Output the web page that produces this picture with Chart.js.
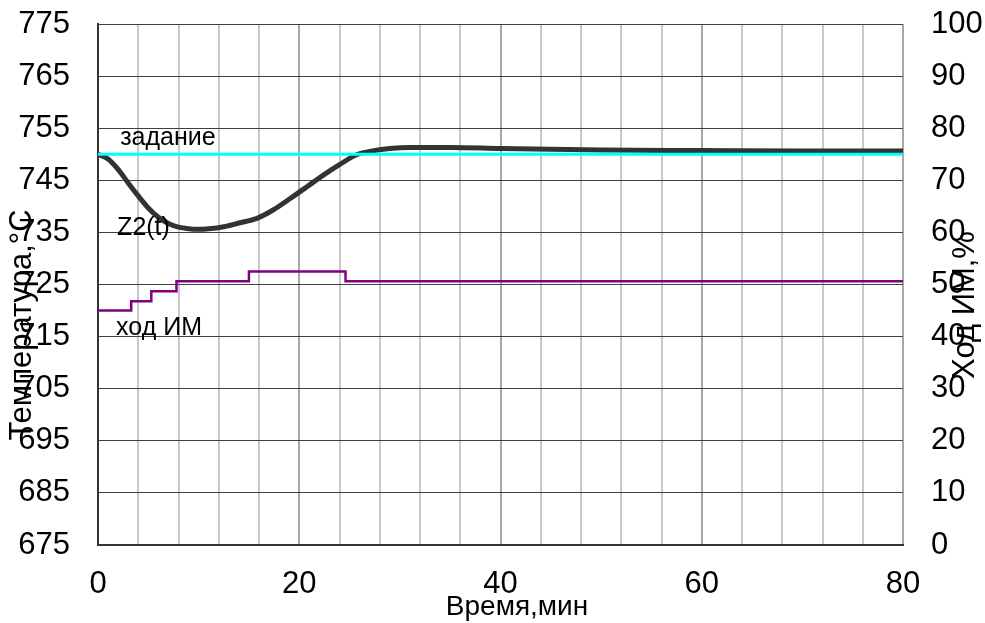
<!DOCTYPE html>
<html>
<head>
<meta charset="utf-8">
<script src="https://cdn.jsdelivr.net/npm/chart.js@4"></script>
<style>
  body { margin: 0; background: #fff; }
</style>
</head>
<body>
<canvas id="grafico" width="985" height="623"></canvas>
<script>
// datos
const tiempoZ2 = [0, 1, 2, 3, 4, 5, 6, 7, 8, 9, 10, 11, 12.5, 14, 15.8, 17.4, 19.1, 20.8, 22.4, 24, 25.7, 27.4, 29, 31, 35, 40, 50, 60, 70, 80]
const valoresZ2 = [750, 749.1, 747.1, 744.5, 742, 739.7, 737.9, 736.7, 736, 735.7, 735.6, 735.7, 736.1, 736.8, 737.7, 739.3, 741.5, 743.8, 746, 748, 749.9, 750.7, 751.1, 751.3, 751.3, 751.1, 750.8, 750.7, 750.6, 750.6]

const tiempoZadanie = [0, 80]
const valoresZadanie = [750, 750]

const tiempoIM = [0, 3.3, 5.3, 7.8, 15, 24.6, 80]
const valoresIM = [45, 46.8, 48.7, 50.6, 52.5, 50.6, 50.6]

const ticksX = [0, 20, 40, 60, 80]
const etiquetas = [
    { texto: 'задание', x: 2.2, y: 753.1 },
    { texto: 'Z2(t)', x: 1.9, y: 735.8 },
    { texto: 'ход ИМ', x: 1.8, y: 716.6 }
]

const juntar = (xs, ys) => xs.map((x, i) => ({ x: x, y: ys[i] }))

Chart.defaults.font.family = "'Liberation Sans', Arial, sans-serif"
Chart.defaults.color = '#000'

// sin relleno extra por las etiquetas de los ejes
const sinPadding = s => {
    s.paddingTop = 0
    s.paddingBottom = 0
    s.paddingLeft = 0
    s.paddingRight = 0
}

const textos = {
    id: 'textos',
    afterDraw(chart) {
        const ctx = chart.ctx
        const sx = chart.scales.x
        const sy = chart.scales.y
        ctx.save()
        ctx.fillStyle = '#000'
        ctx.font = "25px 'Liberation Sans', Arial"
        ctx.textBaseline = 'middle'
        ctx.textAlign = 'left'
        etiquetas.forEach(e => {
            ctx.fillText(e.texto, sx.getPixelForValue(e.x), sy.getPixelForValue(e.y))
        })

        ctx.font = "28px 'Liberation Sans', Arial"
        ctx.textAlign = 'center'
        ctx.fillText('Время,мин', 517, 607)

        ctx.font = "31px 'Liberation Sans', Arial"
        ctx.save()
        ctx.translate(22, 325)
        ctx.rotate(-Math.PI / 2)
        ctx.fillText('Температура,°С', 0, 0)
        ctx.restore()

        ctx.save()
        ctx.translate(965, 305)
        ctx.rotate(-Math.PI / 2)
        ctx.fillText('Ход ИМ,%', 0, 0)
        ctx.restore()
        ctx.restore()
    }
}

const ctx = document.getElementById('grafico')

new Chart(ctx, {
    type: 'line',
    data: {
        datasets: [
            {
                label: 'задание',
                data: juntar(tiempoZadanie, valoresZadanie),
                borderColor: '#00ffff',
                borderWidth: 3,
                pointRadius: 0,
                yAxisID: 'y'
            },
            {
                label: 'Z2(t)',
                data: juntar(tiempoZ2, valoresZ2),
                borderColor: '#333333',
                borderWidth: 5,
                pointRadius: 0,
                cubicInterpolationMode: 'monotone',
                yAxisID: 'y'
            },
            {
                label: 'ход ИМ',
                data: juntar(tiempoIM, valoresIM),
                borderColor: '#800080',
                borderWidth: 2.5,
                pointRadius: 0,
                stepped: 'before',
                yAxisID: 'y1'
            }
        ]
    },
    options: {
        responsive: false,
        animation: false,
        layout: { padding: { top: 24, left: 0, right: 0, bottom: 0 } },
        plugins: {
            legend: { display: false },
            tooltip: { enabled: false }
        },
        scales: {
            x: {
                type: 'linear',
                min: 0,
                max: 80,
                afterFit: s => { s.height = 78; sinPadding(s) },
                ticks: {
                    stepSize: 4,
                    autoSkip: false,
                    maxRotation: 0,
                    padding: 21,
                    font: { size: 31 },
                    callback: v => ticksX.includes(v) ? v : ''
                },
                grid: {
                    drawTicks: false,
                    lineWidth: 2,
                    color: c => (c.tick && c.tick.value % 20 === 0) ? '#a8a8a8' : '#c8c8c8'
                },
                border: { color: '#333', width: 2 }
            },
            y: {
                position: 'left',
                min: 675,
                max: 775,
                afterFit: s => { s.width = 98; sinPadding(s) },
                ticks: {
                    stepSize: 10,
                    padding: 28,
                    font: { size: 31 }
                },
                grid: {
                    drawTicks: false,
                    lineWidth: 1,
                    color: '#404040'
                },
                border: { color: '#333', width: 2 }
            },
            y1: {
                position: 'right',
                min: 0,
                max: 100,
                afterFit: s => { s.width = 82; sinPadding(s) },
                ticks: {
                    stepSize: 10,
                    padding: 28,
                    font: { size: 31 }
                },
                grid: { display: false, drawTicks: false },
                border: { display: false }
            }
        }
    },
    plugins: [textos]
})
</script>
</body>
</html>
